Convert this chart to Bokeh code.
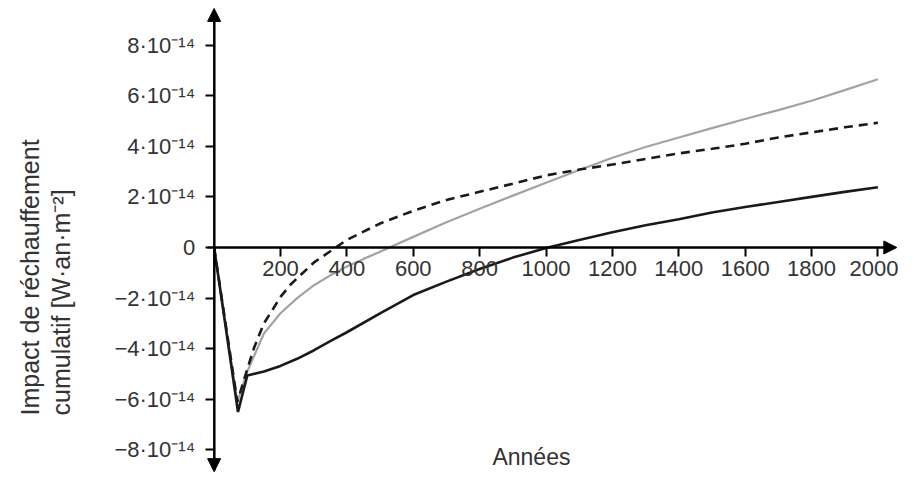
import math
from bokeh.plotting import figure
from bokeh.models import Range1d, FixedTicker, CustomJSTickFormatter, Arrow, NormalHead, Label
from bokeh.embed import file_html
from bokeh.resources import INLINE

# ---- data (impact in units of 1e-14 W·an·m^-2) ----
years_black = [0, 72, 100, 150, 200, 250, 300, 350, 400, 500, 600, 700, 800, 900, 1000,
               1100, 1200, 1300, 1400, 1500, 1600, 1700, 1800, 1900, 2000]
impact_black = [0, -6.5, -5.06, -4.9, -4.68, -4.4, -4.07, -3.7, -3.35, -2.6, -1.88, -1.35, -0.85, -0.4, -0.02,
                0.3, 0.6, 0.88, 1.12, 1.38, 1.6, 1.8, 2.0, 2.2, 2.38]

years_gray = [0, 70, 100, 150, 200, 250, 300, 350, 400, 450, 500, 600, 700, 800, 900, 1000,
              1100, 1200, 1300, 1400, 1500, 1600, 1700, 1800, 1900, 2000]
impact_gray = [0, -6.1, -4.9, -3.4, -2.6, -2.0, -1.5, -1.1, -0.75, -0.45, -0.17, 0.42, 1.0, 1.53, 2.05, 2.56,
               3.06, 3.55, 3.97, 4.35, 4.72, 5.08, 5.43, 5.8, 6.22, 6.65]

years_dash = [0, 70, 100, 121, 150, 178, 200, 232, 300, 400, 500, 600, 700, 800, 900, 1000,
              1100, 1200, 1300, 1400, 1500, 1600, 1700, 1800, 1900, 2000]
impact_dash = [0, -6.1, -4.8, -3.94, -3.0, -2.42, -1.95, -1.44, -0.6, 0.3, 0.95, 1.45, 1.88, 2.2, 2.52, 2.85,
               3.08, 3.28, 3.5, 3.72, 3.9, 4.1, 4.35, 4.55, 4.75, 4.93]

x_ticks = [200, 400, 600, 800, 1000, 1200, 1400, 1600, 1800, 2000]
y_ticks = [-8, -6, -4, -2, 0, 2, 4, 6, 8]

x_title = "Années"
y_title_1 = "Impact de réchauffement"
y_title_2 = "cumulatif [W·an·m⁻²]"

FONT = "Liberation Sans"
TXT = "#333333"

p = figure(width=898, height=473, x_range=Range1d(-643.6, 2062), y_range=Range1d(-8.933, 9.763),
           output_backend="svg", toolbar_location=None, min_border=0, title=None)
p.outline_line_color = None
p.grid.visible = False
p.background_fill_color = "white"

for ax in (p.xaxis[0], p.yaxis[0]):
    ax.fixed_location = 0
    ax.axis_line_width = 2
    ax.axis_line_color = "black"
    ax.major_tick_line_width = 2
    ax.major_tick_line_color = "black"
    ax.major_tick_in = 0
    ax.major_tick_out = 9
    ax.minor_tick_line_color = None
    ax.major_label_text_font = FONT
    ax.major_label_text_font_size = "22px"
    ax.major_label_text_color = TXT

p.xaxis[0].bounds = (-20, 2045)
p.yaxis[0].bounds = (-8.8, 9.3)
p.xaxis[0].ticker = FixedTicker(ticks=x_ticks)
p.yaxis[0].ticker = FixedTicker(ticks=y_ticks)
p.xaxis[0].major_label_standoff = 5
p.yaxis[0].major_label_standoff = 10
p.yaxis[0].formatter = CustomJSTickFormatter(code="""
    if (tick == 0) { return "0"; }
    var s = tick < 0 ? "\u2212" : "";
    return s + Math.abs(tick) + "\u00b710\u207b\u00b9\u2074";
""")

p.line(years_gray, impact_gray, line_color="#a3a3a3", line_width=2.2)
p.line(years_dash, impact_dash, line_color="#1a1a1a", line_width=2.6, line_dash="9 6")
p.line(years_black, impact_black, line_color="#1a1a1a", line_width=2.6)

for xe, ye in ((0, 9.45), (0, -8.86), (2057, 0)):
    p.add_layout(Arrow(end=NormalHead(size=13, fill_color="black", line_color="black"),
                       x_start=0, y_start=0, x_end=xe, y_end=ye,
                       line_width=2, line_color="black"))

p.add_layout(Label(x=956, y=-8.3, text=x_title, text_align="center", text_baseline="middle",
                   text_font=FONT, text_font_size="23px", text_color=TXT))
p.add_layout(Label(x=-556, y=-6.64, text=y_title_1, angle=math.pi / 2, text_align="left",
                   text_baseline="middle", text_font=FONT, text_font_size="25px", text_color=TXT))
p.add_layout(Label(x=-460, y=-6.64, text=y_title_2, angle=math.pi / 2, text_align="left",
                   text_baseline="middle", text_font=FONT, text_font_size="25px", text_color=TXT))

open("out.html", "w").write(file_html(p, INLINE))
